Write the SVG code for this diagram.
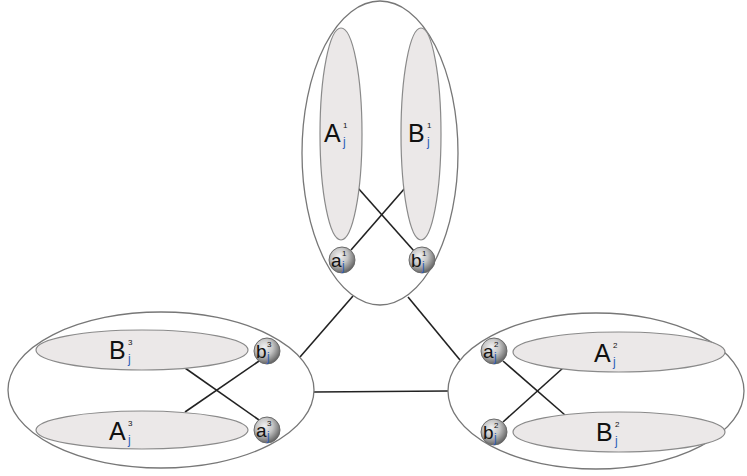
<svg xmlns="http://www.w3.org/2000/svg" width="747" height="476" viewBox="0 0 747 476">
<defs>
<radialGradient id="ball" cx="0.4" cy="0.35" r="0.65">
<stop offset="0" stop-color="#f2f2f2"/>
<stop offset="0.5" stop-color="#c4c4c4"/>
<stop offset="1" stop-color="#666"/>
</radialGradient>
<style>
.outer{fill:none;stroke:#777;stroke-width:1.3}
.inner{fill:#ebe8e8;stroke:#8a8a8a;stroke-width:1.2}
.ball{fill:url(#ball);stroke:#6a6a6a;stroke-width:1}
.edge{stroke:#222;stroke-width:1.6;fill:none}
.big{font-family:"Liberation Sans",Arial,sans-serif;font-size:25px;fill:#111}
.sm{font-family:"Liberation Sans",Arial,sans-serif;font-size:19px;fill:#111}
.sup{font-family:"Liberation Sans",Arial,sans-serif;font-size:8px;fill:#111}
.ssup{font-family:"Liberation Sans",Arial,sans-serif;font-size:8px;fill:#111}
.sub{font-family:"Liberation Sans",Arial,sans-serif;font-size:12px;fill:#2a5cb8}
.ssub{font-family:"Liberation Sans",Arial,sans-serif;font-size:12px;fill:#2a5cb8}
</style>
</defs>
<rect width="747" height="476" fill="#fff"/>

<g id="connectors">
<line class="edge" x1="353" y1="296" x2="300" y2="357"/>
<line class="edge" x1="408" y1="297" x2="460" y2="360"/>
<line class="edge" x1="314" y1="392" x2="448" y2="391"/>
<line class="edge" x1="358" y1="188" x2="414" y2="251"/>
<line class="edge" x1="405" y1="188" x2="351" y2="250"/>
<line class="edge" x1="185" y1="368" x2="259" y2="420"/>
<line class="edge" x1="185" y1="412" x2="262" y2="359"/>
<line class="edge" x1="503" y1="361" x2="565" y2="415"/>
<line class="edge" x1="503" y1="422" x2="563" y2="368"/>
</g>

<g id="group1">
<ellipse class="outer" cx="380" cy="153" rx="78" ry="152"/>
</g>
<g id="group3">
<ellipse class="outer" cx="161" cy="390" rx="153" ry="78"/>
</g>
<g id="group2">
<ellipse class="outer" cx="596" cy="391" rx="148" ry="78"/>
</g>

<g id="A1">
<ellipse class="inner" cx="341" cy="134" rx="21" ry="106"/>
<text class="big" x="324" y="142">A</text>
<text class="sup" x="343" y="128">1</text>
<text class="sub" x="343" y="146">j</text>
</g>
<g id="B1">
<ellipse class="inner" cx="421" cy="134" rx="20" ry="106"/>
<text class="big" x="408" y="142">B</text>
<text class="sup" x="427" y="128">1</text>
<text class="sub" x="427" y="146">j</text>
</g>
<g id="a1">
<circle class="ball" cx="342" cy="260" r="13"/>
<text class="sm" x="331" y="267">a</text>
<text class="ssup" x="342" y="256">1</text>
<text class="ssub" x="342" y="270">j</text>
</g>
<g id="b1">
<circle class="ball" cx="422" cy="260" r="13"/>
<text class="sm" x="411" y="267">b</text>
<text class="ssup" x="422" y="256">1</text>
<text class="ssub" x="422" y="270">j</text>
</g>

<g id="B3">
<ellipse class="inner" cx="142" cy="350" rx="106" ry="20"/>
<text class="big" x="109" y="359">B</text>
<text class="sup" x="128" y="345">3</text>
<text class="sub" x="128" y="363">j</text>
</g>
<g id="A3">
<ellipse class="inner" cx="142" cy="430" rx="106" ry="19"/>
<text class="big" x="109" y="440">A</text>
<text class="sup" x="128" y="426">3</text>
<text class="sub" x="128" y="444">j</text>
</g>
<g id="b3">
<circle class="ball" cx="267" cy="351" r="13"/>
<text class="sm" x="256" y="358">b</text>
<text class="ssup" x="267" y="347">3</text>
<text class="ssub" x="267" y="361">j</text>
</g>
<g id="a3">
<circle class="ball" cx="267" cy="430" r="13"/>
<text class="sm" x="256" y="437">a</text>
<text class="ssup" x="267" y="426">3</text>
<text class="ssub" x="267" y="440">j</text>
</g>

<g id="A2">
<ellipse class="inner" cx="619" cy="352" rx="106" ry="20"/>
<text class="big" x="594" y="362">A</text>
<text class="sup" x="613" y="348">2</text>
<text class="sub" x="613" y="366">j</text>
</g>
<g id="B2">
<ellipse class="inner" cx="619" cy="432" rx="106" ry="20"/>
<text class="big" x="596" y="441">B</text>
<text class="sup" x="615" y="427">2</text>
<text class="sub" x="615" y="445">j</text>
</g>
<g id="a2">
<circle class="ball" cx="494" cy="351" r="13"/>
<text class="sm" x="483" y="358">a</text>
<text class="ssup" x="494" y="347">2</text>
<text class="ssub" x="494" y="361">j</text>
</g>
<g id="b2">
<circle class="ball" cx="494" cy="432" r="13"/>
<text class="sm" x="483" y="439">b</text>
<text class="ssup" x="494" y="428">2</text>
<text class="ssub" x="494" y="442">j</text>
</g>
</svg>
